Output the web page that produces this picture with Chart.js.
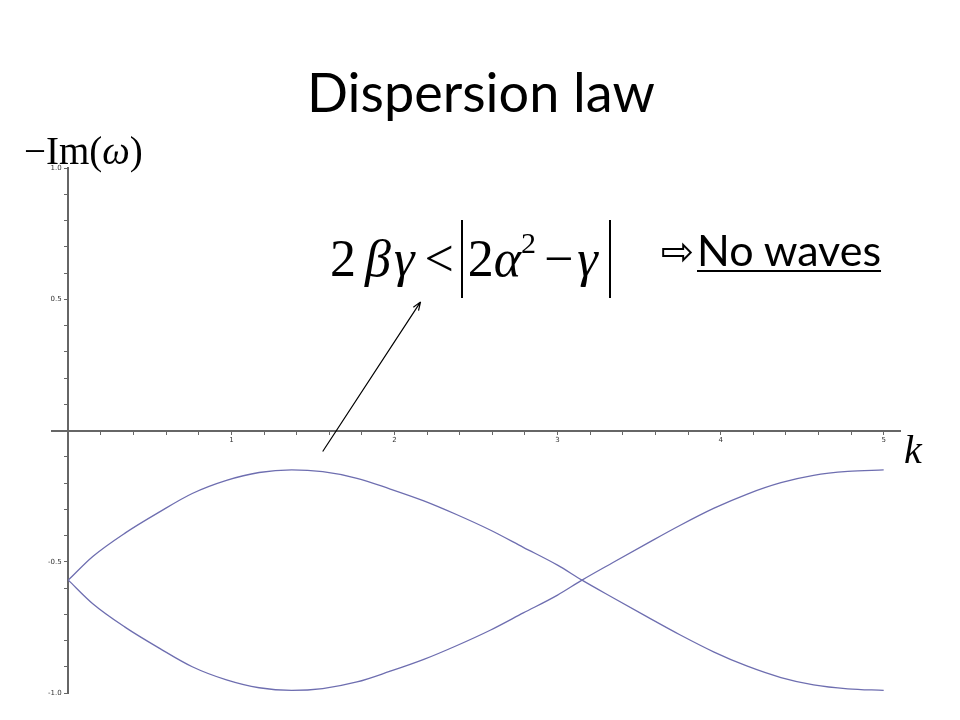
<!DOCTYPE html>
<html>
<head>
<meta charset="utf-8">
<title>Dispersion law</title>
<script src="https://cdn.jsdelivr.net/npm/chart.js@4.4.1/dist/chart.umd.min.js"></script>
<style>
  html, body { margin: 0; padding: 0; background: #fff; }
  #wrap { position: relative; width: 960px; height: 720px; overflow: hidden; }
  #chart { position: absolute; left: 0; top: 0; }
  .txt { position: absolute; white-space: nowrap; color: #000; line-height: 1; }
  #title { left: 0; width: 962px; text-align: center; top: 59px; font: 54px Lato, sans-serif; }
  #ylab { left: 24px; top: 128px; font: 39px "Liberation Serif", serif; }
  #klab { left: 904px; top: 426px; font: italic 40px "Liberation Serif", serif; }
  #formula { left: 330px; top: 220px; font: 52px "Liberation Serif", serif; }
  #formula .two { margin-right: 9px; }
  #formula .g1 { margin-left: 3px; }
  #formula .lt { margin: 0 7px 0 10px; }
  #formula .abs { display: inline-block; border-left: 2px solid #000; border-right: 2px solid #000;
                  padding: 6px 11px 10px 5px; }
  #formula sup { font-size: 30px; vertical-align: 23px; margin-right: 8px; }
  #formula .g2 { margin-left: 4px; }
  #arrow { left: 661px; top: 228px; font: 40px "DejaVu Sans", sans-serif; }
  #nowaves { left: 697px; top: 224px; font: 43px Lato, sans-serif; text-decoration: underline;
             text-decoration-thickness: 2px; text-underline-offset: 4px; }
</style>
</head>
<body>
<div id="wrap">
  <canvas id="chart" width="960" height="720"></canvas>
  <div class="txt" id="title">Dispersion law</div>
  <div class="txt" id="ylab">&minus;Im(<i>ω</i>)</div>
  <div class="txt" id="klab">k</div>
  <div class="txt" id="formula"><span class="two">2</span><i>β</i><i class="g1">γ</i><span class="lt">&lt;</span><span class="abs">2<i>α</i><sup>2</sup>&minus;<i class="g2">γ</i></span></div>
  <div class="txt" id="arrow">⇨</div>
  <div class="txt" id="nowaves">No waves</div>
</div>
<script>
'use strict';

// wave number k and the two branches of -Im(omega)
var kValues = [0, 0.15, 0.35, 0.56, 0.76, 0.97, 1.17, 1.37, 1.56, 1.77, 1.97, 2.18, 2.38,
               2.59, 2.79, 3.0, 3.15, 3.34, 3.55, 3.75, 3.96, 4.16, 4.37, 4.57, 4.78, 5.0];
var branchA = [-0.57, -0.48, -0.39, -0.31, -0.24, -0.19, -0.16, -0.15, -0.157, -0.182, -0.222, -0.268, -0.320,
               -0.380, -0.445, -0.513, -0.57, -0.637, -0.710, -0.778, -0.844, -0.897, -0.941, -0.969, -0.984, -0.990];
var branchB = [-0.57, -0.66, -0.75, -0.83, -0.90, -0.95, -0.98, -0.99, -0.983, -0.958, -0.918, -0.872, -0.820,
               -0.760, -0.695, -0.627, -0.57, -0.503, -0.430, -0.362, -0.296, -0.243, -0.199, -0.171, -0.156, -0.150];

var xTickValues = [1, 2, 3, 4, 5];
var xTickLabels = ['1', '2', '3', '4', '5'];
var yTickValues = [1, 0.5, -0.5, -1];
var yTickLabels = ['1.0', '0.5', '-0.5', '-1.0'];

// the arrow pointing up at the condition
var arrowFrom = { k: 1.56, v: -0.08 };
var arrowTo = { k: 2.16, v: 0.49 };

var lineColor = '#6e6eb0';
var axisColor = '#666666';

function toPoints(ys) {
  var pts = [];
  for (var i = 0; i < kValues.length; i++) {
    pts.push({ x: kValues[i], y: ys[i] });
  }
  return pts;
}

function labelFor(values, labels, v) {
  for (var i = 0; i < values.length; i++) {
    if (Math.abs(values[i] - v) < 1e-9) return labels[i];
  }
  return '';
}

var arrowPlugin = {
  id: 'arrow',
  afterDraw: function (chart) {
    var c = chart.ctx;
    var x1 = chart.scales.x.getPixelForValue(arrowFrom.k);
    var y1 = chart.scales.y.getPixelForValue(arrowFrom.v);
    var x2 = chart.scales.x.getPixelForValue(arrowTo.k);
    var y2 = chart.scales.y.getPixelForValue(arrowTo.v);
    var ang = Math.atan2(y2 - y1, x2 - x1);
    c.save();
    c.strokeStyle = '#000';
    c.lineWidth = 1.2;
    c.beginPath();
    c.moveTo(x1, y1);
    c.lineTo(x2, y2);
    c.moveTo(x2, y2);
    c.lineTo(x2 - 9 * Math.cos(ang - 0.35), y2 - 9 * Math.sin(ang - 0.35));
    c.moveTo(x2, y2);
    c.lineTo(x2 - 9 * Math.cos(ang + 0.35), y2 - 9 * Math.sin(ang + 0.35));
    c.stroke();
    c.restore();
  }
};

var ctx = document.getElementById('chart').getContext('2d');

var chart = new Chart(ctx, {
  type: 'line',
  data: {
    datasets: [
      {
        label: 'branch 1',
        data: toPoints(branchA),
        borderColor: lineColor,
        borderWidth: 1.3,
        pointRadius: 0,
        cubicInterpolationMode: 'monotone',
        fill: false
      },
      {
        label: 'branch 2',
        data: toPoints(branchB),
        borderColor: lineColor,
        borderWidth: 1.3,
        pointRadius: 0,
        cubicInterpolationMode: 'monotone',
        fill: false
      }
    ]
  },
  options: {
    responsive: false,
    animation: false,
    layout: { padding: { left: 52, right: 60, top: 168, bottom: 27 } },
    plugins: {
      legend: { display: false },
      tooltip: { enabled: false }
    },
    scales: {
      x: {
        type: 'linear',
        min: -0.1,
        max: 5.1,
        position: { y: 0 },
        afterBuildTicks: function (scale) {
          var t = [];
          for (var i = 0; i <= 25; i++) t.push({ value: i / 5 });
          scale.ticks = t;
        },
        border: { display: true, color: axisColor, width: 2 },
        grid: { drawOnChartArea: false, drawTicks: true, tickLength: 3, color: axisColor },
        ticks: {
          autoSkip: false,
          maxRotation: 0,
          padding: 2,
          color: '#333',
          font: { family: 'DejaVu Sans', size: 7 },
          callback: function (v) { return labelFor(xTickValues, xTickLabels, v); }
        }
      },
      y: {
        type: 'linear',
        min: -1,
        max: 1,
        position: { x: 0 },
        afterBuildTicks: function (scale) {
          var t = [];
          for (var i = -10; i <= 10; i++) t.push({ value: i / 10 });
          scale.ticks = t;
        },
        border: { display: true, color: axisColor, width: 2 },
        grid: { drawOnChartArea: false, drawTicks: true, tickLength: 3, color: axisColor },
        ticks: {
          autoSkip: false,
          color: '#333',
          font: { family: 'DejaVu Sans', size: 7 },
          // labels of an axis placed at x = 0 sit right on the line, so pad them with spaces
          callback: function (v) {
            var s = labelFor(yTickValues, yTickLabels, v);
            return s ? s + '   ' : '';
          }
        }
      }
    }
  },
  plugins: [arrowPlugin]
});
</script>
</body>
</html>
